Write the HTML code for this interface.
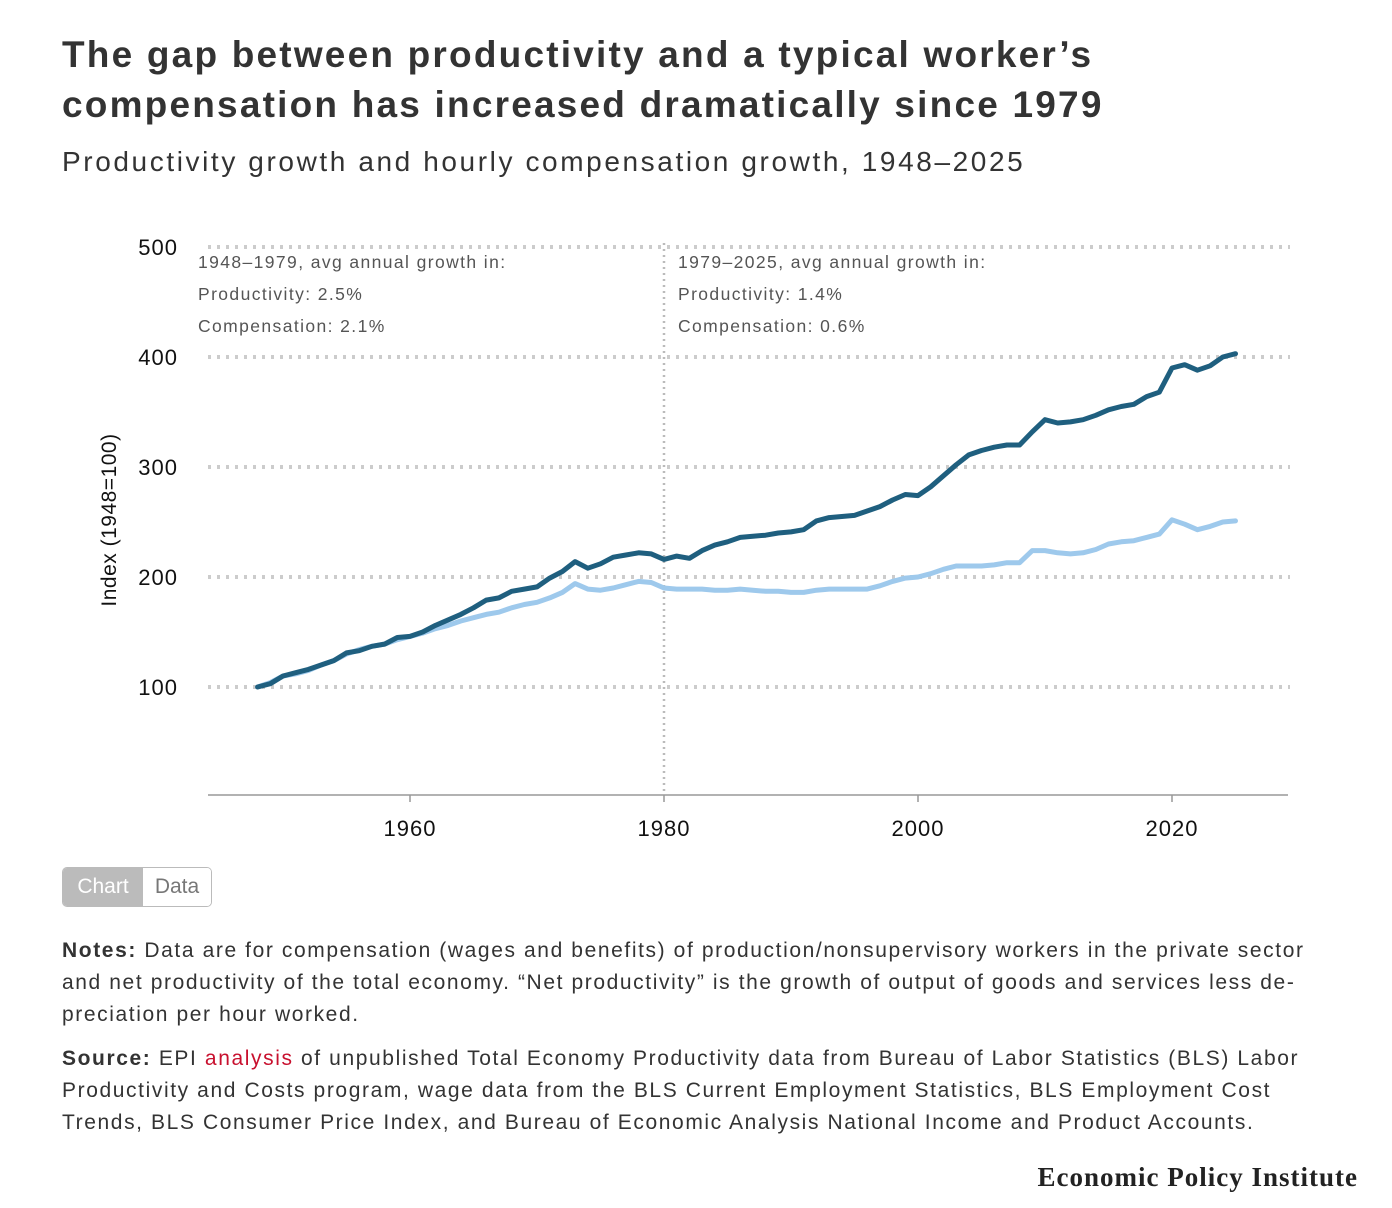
<!DOCTYPE html>
<html><head><meta charset="utf-8"><style>
body{margin:0;width:1392px;height:1208px;background:#fff;font-family:"Liberation Sans",sans-serif;color:#333;position:relative;overflow:hidden}
.t{position:absolute;left:62px;margin:0;white-space:nowrap}
h1{top:30px;font-size:37px;line-height:50px;font-weight:bold;color:#333;letter-spacing:2.2px}
h2{top:146px;font-size:28px;font-weight:normal;color:#333;letter-spacing:2.6px}
.notes{position:absolute;left:62px;width:1320px;font-size:21px;line-height:32px;color:#333;letter-spacing:1.6px;white-space:nowrap}
</style></head><body>
<h1 class="t">The gap between productivity and a typical worker’s<br>compensation has increased dramatically since 1979</h1>
<h2 class="t">Productivity growth and hourly compensation growth, 1948–2025</h2>
<svg id="chart" width="1392" height="860" style="position:absolute;left:0;top:0" font-family="Liberation Sans, sans-serif"></svg>
<div style="position:absolute;left:62px;top:867px;width:148px;height:38px;border:1.5px solid #bbb;border-radius:5px;overflow:hidden;display:flex;font-size:21px">
<div style="width:80px;background:#bbb;color:#fff;text-align:center;line-height:38px">Chart</div>
<div style="flex:1;background:#fff;color:#777;text-align:center;line-height:38px">Data</div></div>
<div class="notes" style="top:935px"><b>Notes:</b> Data are for compensation (wages and benefits) of production/nonsupervisory workers in the private sector<br>and net productivity of the total economy. “Net productivity” is the growth of output of goods and services less de-<br>preciation per hour worked.</div>
<div class="notes" style="top:1043px"><b>Source:</b> EPI <span style="color:#c8102e">analysis</span> of unpublished Total Economy Productivity data from Bureau of Labor Statistics (BLS) Labor<br>Productivity and Costs program, wage data from the BLS Current Employment Statistics, BLS Employment Cost<br>Trends, BLS Consumer Price Index, and Bureau of Economic Analysis National Income and Product Accounts.</div>
<div style="position:absolute;right:34px;top:1162px;font-family:'Liberation Serif',serif;font-weight:bold;font-size:27px;letter-spacing:1px;color:#222">Economic Policy Institute</div>
<script>
const years=[];for(let y=1948;y<=2025;y++)years.push(y);
const productivity=[100,103,110,113,116,120,124,131,133,137,139,145,146,150,156,161,166,172,179,181,187,189,191,199,205,214,208,212,218,220,222,221,216,219,217,224,229,232,236,237,238,240,241,243,251,254,255,256,260,264,270,275,274,282,292,302,311,315,318,320,320,332,343,340,341,343,347,352,355,357,364,368,390,393,388,392,400,403];
const compensation=[100,104,110,112,115,120,124,130,134,137,139,143,146,149,153,156,160,163,166,168,172,175,177,181,186,194,189,188,190,193,196,195,190,189,189,189,188,188,189,188,187,187,186,186,188,189,189,189,189,192,196,199,200,203,207,210,210,210,211,213,213,224,224,222,221,222,225,230,232,233,236,239,252,248,243,246,250,251];
const yTicks=[100,200,300,400,500];
const xTicks=[1960,1980,2000,2020];
const X=y=>410+(y-1960)*12.7, Y=v=>687-(v-100)*1.1;
const svg=document.getElementById('chart');const NS='http://www.w3.org/2000/svg';
function mk(t,a,txt){const e=document.createElementNS(NS,t);for(const k in a)e.setAttribute(k,a[k]);if(txt!=null)e.textContent=txt;svg.appendChild(e);return e;}
yTicks.forEach(v=>{
 const g=mk('line',{x1:208,x2:1290,y1:Y(v),y2:Y(v),stroke:'#ccc','stroke-width':4,'stroke-dasharray':'3,6'});
 
 
 const t=mk('text',{x:178,y:Y(v)+8,'text-anchor':'end','font-size':22,fill:'#111','letter-spacing':1},v);
 
 
});
const ax=mk('line',{x1:208,x2:1288,y1:795,y2:795,stroke:'#999','stroke-width':1.5});


xTicks.forEach(v=>{
 const l=mk('line',{x1:X(v),x2:X(v),y1:795,y2:802,stroke:'#999','stroke-width':1.5});
 
 
 const t=mk('text',{x:X(v),y:836,'text-anchor':'middle','font-size':22,fill:'#111','letter-spacing':1},v);
 
 
});
const vl=mk('line',{x1:X(1980),x2:X(1980),y1:243,y2:795,stroke:'#bbb','stroke-width':2.5,'stroke-dasharray':'2,4'});


const yt=mk('text',{transform:'translate(116,520) rotate(-90)','text-anchor':'middle','font-size':21,fill:'#111','letter-spacing':0.5},'Index (1948=100)');


[[198,['1948–1979, avg annual growth in:','Productivity: 2.5%','Compensation: 2.1%']],[678,['1979–2025, avg annual growth in:','Productivity: 1.4%','Compensation: 0.6%']]].forEach(([x,ls])=>{
 ls.forEach((s,i)=>{const t=mk('text',{x:x,y:268+i*32,'font-size':17.5,fill:'#555','letter-spacing':1.4},s);
 
 });
});
function line(vals,col,name){
 const d=vals.map((v,i)=>(i?'L':'M')+X(years[i]).toFixed(1)+','+Y(v).toFixed(1)).join('');
 const p=mk('path',{d:d,fill:'none',stroke:col,'stroke-width':5,'stroke-linejoin':'round','stroke-linecap':'round'});
 
 
}
line(compensation,'#9ec9ec','compensation-line');
line(productivity,'#1f5f7f','productivity-line');
</script>
</body></html>
